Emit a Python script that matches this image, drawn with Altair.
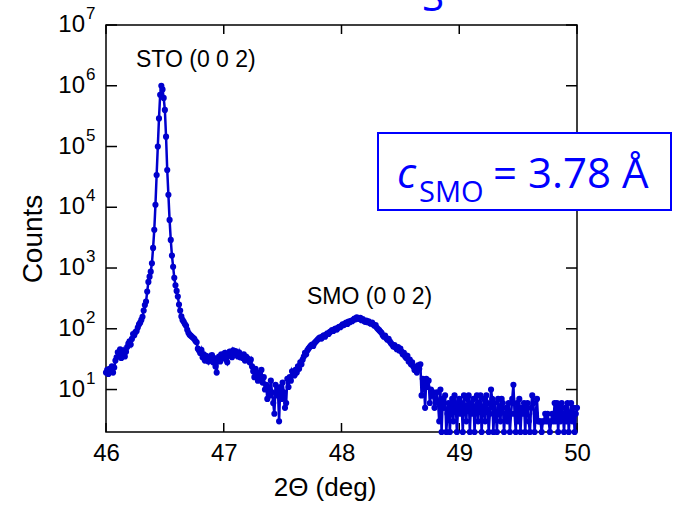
import altair as alt
import pandas as pd

# ---- data: XRD 2-theta scan, step 0.01 deg starting at 46.00 ----
start_deg = 46.0
step_deg = 0.01

counts_46 = [19, 21, 18, 22, 20, 24, 19, 23, 30, 34,
             41, 36, 46, 33, 39, 44, 35, 42, 50, 57,
             62, 55, 68, 82, 78, 88, 92, 105, 118, 126,
             140, 158, 200, 246, 280, 410, 590, 720, 870, 1200,
             2140, 4270, 11000, 34000, 100000, 290000, 710000, 1000000, 870000, 630000,
             400000, 145000, 41000, 16000, 6200, 2900, 1600, 1050, 690, 520,
             420, 340, 250, 200, 160, 140, 130, 120, 112, 96,
             86, 80, 77, 74, 71, 68, 63, 60, 47, 44,
             40, 45, 34, 38, 30, 36, 33, 29, 35, 31,
             37, 28, 33, 24, 19, 30, 35, 29, 38, 33]
counts_47 = [37, 40, 31, 28, 36, 42, 39, 34, 44, 40,
             43, 38, 35, 41, 34, 37, 33, 38, 30, 35,
             33, 30, 28, 31, 24, 20, 16, 22, 18, 14,
             19, 15, 21, 13, 16, 10, 12, 7, 11, 8,
             14, 9, 6, 4, 12, 8, 10, 3, 11, 7,
             13, 9, 5, 6, 15, 11, 16, 14, 20, 18,
             17, 21, 19, 24, 22, 28, 26, 31, 35, 40,
             38, 44, 47, 50, 53, 55, 52, 58, 61, 64,
             67, 70, 72, 69, 75, 78, 74, 80, 84, 82,
             88, 91, 95, 92, 98, 101, 97, 104, 108, 106]
counts_48 = [112, 118, 115, 122, 126, 120, 131, 128, 135, 133,
             140, 147, 143, 155, 150, 145, 152, 138, 144, 136,
             130, 137, 128, 133, 124, 121, 126, 118, 112, 115,
             104, 99, 95, 90, 86, 78, 74, 77, 70, 66,
             68, 62, 58, 55, 51, 54, 49, 46, 50, 44,
             47, 42, 38, 40, 35, 33, 36, 29, 31, 26,
             28, 24, 21, 23, 19, 25, 22, 26, 8, 15,
             13, 5, 15, 11, 14, 6, 10, 8, 9, 5,
             7, 9, 6, 3, 10, 2, 7, 5, 8, 2,
             4, 6, 2, 5, 7, 3, 8, 6, 2, 5]
counts_49 = [7, 4, 6, 2, 8, 5, 3, 7, 8, 2,
             6, 4, 7, 2, 5, 8, 3, 6, 8, 2,
             5, 7, 3, 8, 6, 2, 4, 10, 7, 2,
             6, 4, 2, 7, 5, 3, 7, 6, 2, 4,
             5, 3, 6, 2, 4, 7, 12, 4, 2, 6,
             3, 7, 2, 5, 4, 6, 2, 5, 6, 3,
             2, 5, 8, 6, 2, 4, 7, 3, 3, 3,
             2, 3, 3, 4, 3, 4, 3, 2, 3, 4,
             3, 6, 3, 6, 2, 5, 3, 6, 4, 2,
             5, 3, 6, 2, 4, 6, 3, 5, 2, 4]
counts_50 = [5]

x_ticks = [46, 47, 48, 49, 50]
y_exponents = [1, 2, 3, 4, 5, 6, 7]

peak_labels = ["STO (0 0 2)", "SMO (0 0 2)"]
peak_label_x = [46.763, 48.239]
peak_label_y = [2.65e6, 337]

box_main_text = "= 3.78 Å"
box_c = "c"
box_sub = "SMO"

# ---- build tables ----
counts = counts_46 + counts_47 + counts_48 + counts_49 + counts_50
scan = pd.DataFrame({
    "x": [round(start_deg + step_deg * i, 2) for i in range(len(counts))],
    "y": counts,
})
xt = pd.DataFrame({"x": x_ticks})
yt = pd.DataFrame({"y": [10 ** e for e in y_exponents],
                   "base": ["10"] * len(y_exponents),
                   "exp": [str(e) for e in y_exponents]})
ann = pd.DataFrame({"x": peak_label_x, "y": peak_label_y, "t": peak_labels})
one = pd.DataFrame({"a": [0]})

W, H = 471, 407
BLUE = "#0000CD"
BOXBLUE = "#0000FF"
FONT = "Liberation Sans"

xscale = alt.Scale(domain=[46, 50], nice=False, zero=False)
yscale = alt.Scale(type="log", domain=[2, 1e7], nice=False)
xaxis = alt.Axis(values=x_ticks, format="d", labelFontSize=24, labelFont=FONT,
                 labelColor="black", ticks=False, domain=False, grid=False,
                 labelPadding=9, title=None, labelFlush=False, labelOverlap=False)

X = alt.X("x:Q", scale=xscale, axis=xaxis)
Y = alt.Y("y:Q", scale=yscale, axis=None)

frame = alt.Chart(one).mark_rect(fill="white", fillOpacity=0, stroke="black",
                                 strokeWidth=1.5).encode(
    x=alt.value(0), x2=alt.value(W), y=alt.value(0), y2=alt.value(H))

xt_bottom = alt.Chart(xt).mark_rule(color="black", strokeWidth=1.5).encode(
    x=X, y=alt.value(H), y2=alt.value(H - 9))
xt_top = alt.Chart(xt).mark_rule(color="black", strokeWidth=1.5).encode(
    x=X, y=alt.value(0), y2=alt.value(9))
yt_left = alt.Chart(yt).mark_rule(color="black", strokeWidth=1.5).encode(
    y=Y, x=alt.value(0), x2=alt.value(11))
yt_right = alt.Chart(yt).mark_rule(color="black", strokeWidth=1.5).encode(
    y=Y, x=alt.value(W), x2=alt.value(W - 11))

ylab_base = alt.Chart(yt).mark_text(font=FONT, fontSize=24, align="right",
                                    baseline="alphabetic", dy=7, color="black").encode(
    y=Y, x=alt.value(-21), text="base:N")
ylab_exp = alt.Chart(yt).mark_text(font=FONT, fontSize=17, align="left",
                                   baseline="alphabetic", dy=-6, dx=1, color="black").encode(
    y=Y, x=alt.value(-21), text="exp:N")

line = alt.Chart(scan).mark_line(color=BLUE, strokeWidth=2.5).encode(x=X, y=Y)
pts = alt.Chart(scan).mark_circle(color=BLUE, size=38, opacity=1).encode(x=X, y=Y)

labels = alt.Chart(ann).mark_text(font=FONT, fontSize=23, align="center",
                                  baseline="middle", color="black").encode(
    x=X, y=Y, text="t:N")

xtitle = alt.Chart(one).mark_text(font=FONT, fontSize=26, align="center",
                                  baseline="middle", color="black",
                                  text="2Θ (deg)").encode(
    x=alt.value(219), y=alt.value(463))
ytitle = alt.Chart(one).mark_text(font=FONT, fontSize=28, align="center",
                                  baseline="middle", color="black", angle=270,
                                  text="Counts").encode(
    x=alt.value(-72), y=alt.value(214))

top_s = alt.Chart(one).mark_text(font="Open Sans", fontSize=40, align="center",
                                 baseline="alphabetic", color=BOXBLUE,
                                 text="S").encode(
    x=alt.value(327), y=alt.value(-14))

box = alt.Chart(one).mark_rect(fill="white", stroke=BOXBLUE, strokeWidth=2).encode(
    x=alt.value(272), x2=alt.value(565), y=alt.value(108), y2=alt.value(185))
box_c_t = alt.Chart(one).mark_text(font="Open Sans", fontSize=42, fontStyle="italic",
                                   align="left", baseline="alphabetic", color=BOXBLUE,
                                   text=box_c).encode(
    x=alt.value(291), y=alt.value(163))
box_sub_t = alt.Chart(one).mark_text(font="Open Sans", fontSize=29, align="left",
                                     baseline="alphabetic", color=BOXBLUE,
                                     text=box_sub).encode(
    x=alt.value(313), y=alt.value(177))
box_main_t = alt.Chart(one).mark_text(font="Open Sans", fontSize=42, align="left",
                                      baseline="alphabetic", color=BOXBLUE,
                                      text=box_main_text).encode(
    x=alt.value(387), y=alt.value(163))

chart = alt.layer(
    frame, xt_bottom, xt_top, yt_left, yt_right, ylab_base, ylab_exp,
    line, pts, labels, xtitle, ytitle, top_s, box, box_c_t, box_sub_t, box_main_t
).properties(
    width=W, height=H,
    autosize=alt.AutoSizeParams(type="none"),
    padding={"left": 106, "top": 25, "right": 99, "bottom": 75},
    background="white",
).configure_view(strokeWidth=0)

chart.save("out.html", embed_options={"renderer": "svg", "actions": False})
